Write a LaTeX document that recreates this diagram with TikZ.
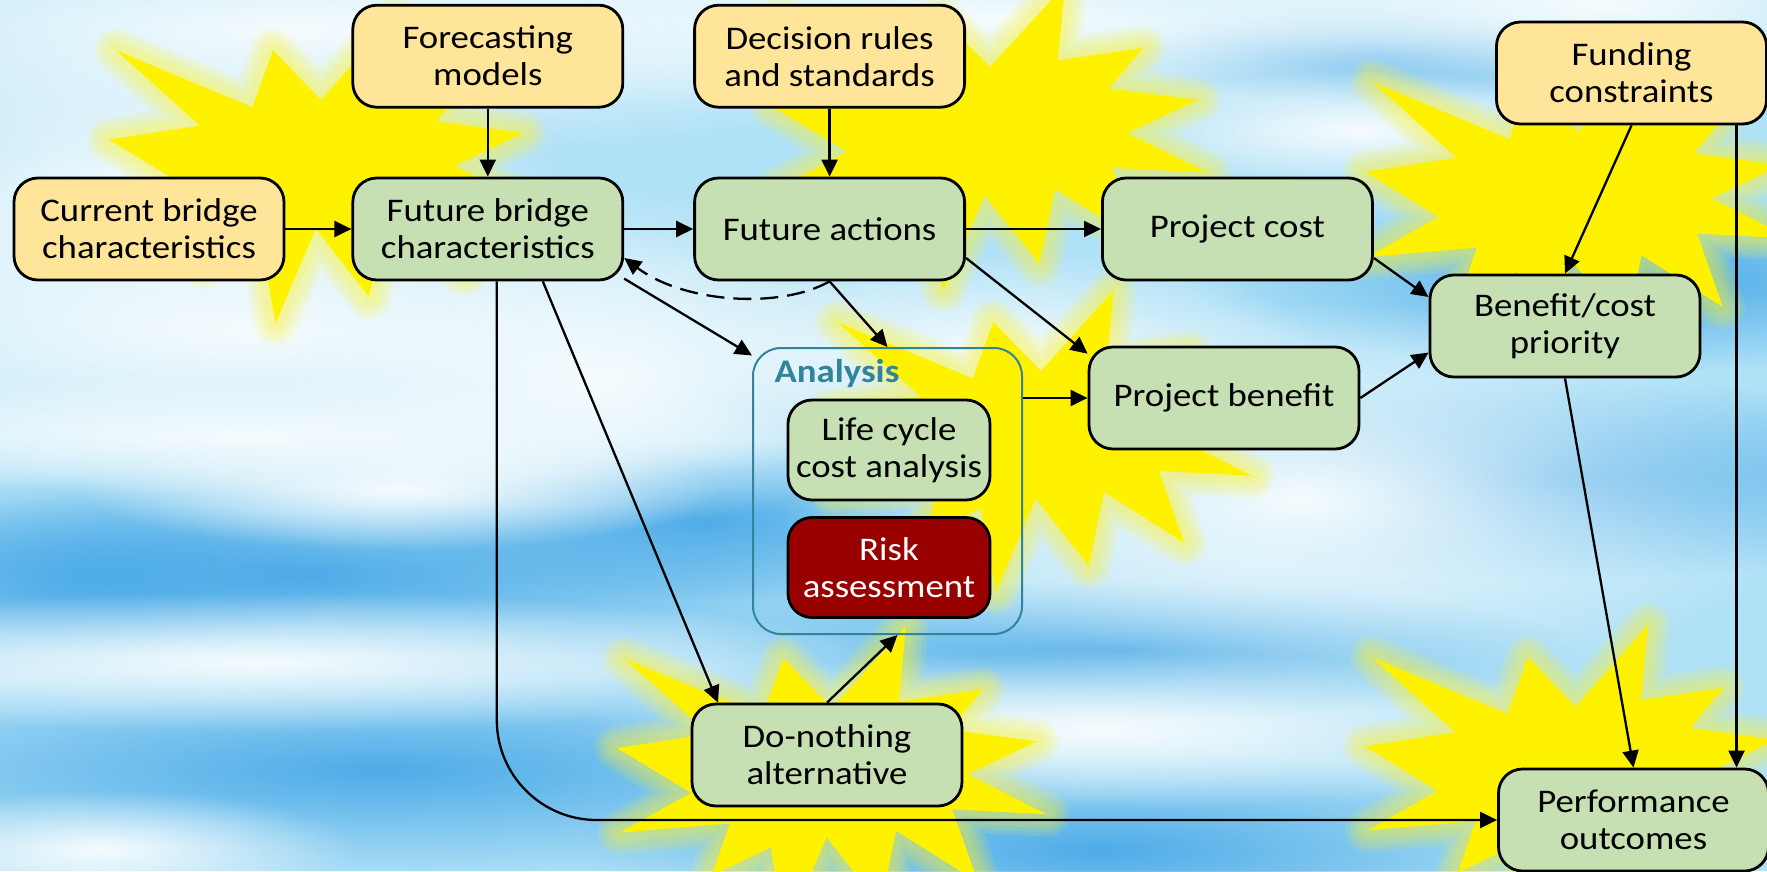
\documentclass[tikz,border=0pt]{standalone}
\usepackage{fontspec}
\setmainfont{Carlito}[FakeStretch=1.115]
\usetikzlibrary{positioning,arrows.meta,fadings}

\definecolor{inputfill}{RGB}{255,229,153}
\definecolor{procfill}{RGB}{198,224,180}
\definecolor{riskred}{RGB}{153,0,0}
\definecolor{anateal}{RGB}{49,132,155}
\definecolor{skybase}{RGB}{175,225,247}
\definecolor{skydeep}{RGB}{78,172,232}
\definecolor{cloudwhite}{RGB}{246,252,254}

\tikzfading[name=blob, inner color=transparent!0, outer color=transparent!100]

\newcommand{\boxfont}{\fontsize{33}{37}\selectfont}
% explosion outline in a unit box, y running down
\newcommand{\burstpath}{(0.5,0.2685) -- (0.6723,0) -- (0.6553,0.2465) -- (0.8509,0.2063)
  -- (0.7732,0.3387) -- (0.9767,0.3767) -- (0.8151,0.4850) -- (1,0.6153) -- (0.7795,0.5992)
  -- (0.8400,0.8377) -- (0.6491,0.6693) -- (0.6133,0.9138) -- (0.4876,0.6914) -- (0.3928,1)
  -- (0.3572,0.7235) -- (0.2205,0.8156) -- (0.2624,0.6452) -- (0.0063,0.6753) -- (0.1723,0.5451)
  -- (0,0.3988) -- (0.2142,0.3526) -- (0.0171,0.1063) -- (0.3385,0.2926) -- (0.3867,0.1063) -- cycle}
\newcommand{\burst}[4]{%
  \begin{scope}[shift={(#1,#2)}, xscale=#3, yscale=#4]
    \foreach \w in {44,36,28,20,12}
      \draw[halo, line width=\w pt] \burstpath;
    \fill[yellow] \burstpath;
  \end{scope}}

\tikzset{
  flowbox/.style={draw=black, line width=2.8pt, rounded corners=24pt, align=center, inner sep=0pt,
    font=\boxfont, minimum width=270pt, minimum height=102pt},
  inbox/.style={flowbox, fill=inputfill},
  procbox/.style={flowbox, fill=procfill},
  subbox/.style={flowbox, minimum width=202pt, minimum height=100pt},
  anaframe/.style={draw=anateal, line width=2pt, rounded corners=28pt, minimum width=269pt, minimum height=286pt},
  conn/.style={-{Triangle[length=17pt,width=16pt]}, line width=2.3pt},
  halo/.style={draw=yellow!80!white, line join=round, opacity=0.12},
  cloud/.style={fill=cloudwhite, path fading=blob},
  deep/.style={fill=skydeep, path fading=blob},
}

\begin{document}
\begin{tikzpicture}[x=1pt, y=-1pt]
\useasboundingbox (0,0) rectangle (1767,871);

% sky
\begin{scope}
\clip (0,0) rectangle (1767,871);
\fill[skybase] (0,0) rectangle (1767,871);
\foreach \cx/\cy/\rx/\ry in {300/575/700/110, 100/575/260/80, 380/770/700/110, 1120/650/460/70,
    1100/850/520/100, 1650/280/460/90, 1380/55/260/50, 1550/480/500/100, 700/520/300/80}
  \fill[deep] (\cx,\cy) ellipse (\rx pt and \ry pt);
\foreach \cx/\cy/\rx/\ry in {300/30/760/130, 1000/20/760/100, 1600/5/420/80, 250/330/760/170,
    600/380/320/150, 250/435/620/60, 400/490/320/60, 260/662/640/70, 1300/500/520/200,
    1100/730/520/80, 1360/130/280/60, 1000/350/320/100, 100/850/260/60, 160/190/420/160}
  \fill[cloud] (\cx,\cy) ellipse (\rx pt and \ry pt);

% bursts
\burst{109}{18}{424}{305}
\burst{772}{-15}{436}{305}
\burst{830}{290}{422}{302}
\burst{1365}{49}{426}{308}
\burst{617}{626}{430}{306}
\burst{1365}{625}{421}{304}
\end{scope}

% boxes
\node[inbox] (cb) at (149,229) {Current bridge\\characteristics};
\node[procbox, right=66pt of cb] (fb) {Future bridge\\characteristics};
\node[inbox, above=68pt of fb] (fm) {Forecasting\\models};
\node[procbox, right=69pt of fb] (fa) {Future actions};
\node[inbox, above=68pt of fa] (dr) {Decision rules\\and standards};
\node[procbox, right=135pt of fa] (pc) {Project cost};
\node[procbox] (pb) at (1224,398) {Project benefit};
\node[procbox] (bc) at (1565,326) {Benefit/cost\\priority};
\node[inbox] (fc) at (1631.5,73) {Funding\\constraints};
\node[procbox] (pf) at (1633.5,820) {Performance\\outcomes};
\node[procbox] (dn) at (827,755) {Do-nothing\\alternative};

% analysis group
\node[anaframe] (ana) at (887.5,491) {};
\node[font=\boxfont\bfseries, text=anateal, anchor=base west] (analab) at (771,382) {Analysis};
\node[subbox, fill=procfill] (lcc) at (889,450) {Life cycle\\cost analysis};
\node[subbox, fill=riskred, text=white] (risk) at (889,567.5) {Risk\\assessment};

% links
\draw[conn] (cb) -- (fb);
\draw[conn] (fm) -- (fb);
\draw[conn] (fb) -- (fa);
\draw[conn] (dr) -- (fa);
\draw[conn] (fa) -- (pc);
\draw[conn] (fa.-12) -- (pb.162);
\draw[conn] (fa.south) -- (ana.north);
\draw[conn, dash pattern=on 18pt off 9pt] (fa.south) .. controls +(-50,28) and +(60,45) .. (fb.-12);
\draw[conn] (fb.-20) -- (ana.135);
\draw[conn] ([xshift=55pt]fb.south) -- ([xshift=-109pt]dn.north);
\draw[conn, rounded corners=100pt] ([xshift=9pt]fb.south) |- (pf.west);
\draw[conn] (dn.north) -- ([xshift=10pt]ana.south);
\draw[conn] (ana.east |- pb.west) -- (pb.west);
\draw[conn] (pc.-12) -- (bc.168);
\draw[conn] (pb.east) -- (bc.191);
\draw[conn] (fc.south) -- (bc.north);
\draw[conn] ([xshift=105pt]fc.south) -- ([xshift=105pt]fc.south |- pf.north);
\draw[conn] (bc.south) -- (pf.north);
\end{tikzpicture}
\end{document}
